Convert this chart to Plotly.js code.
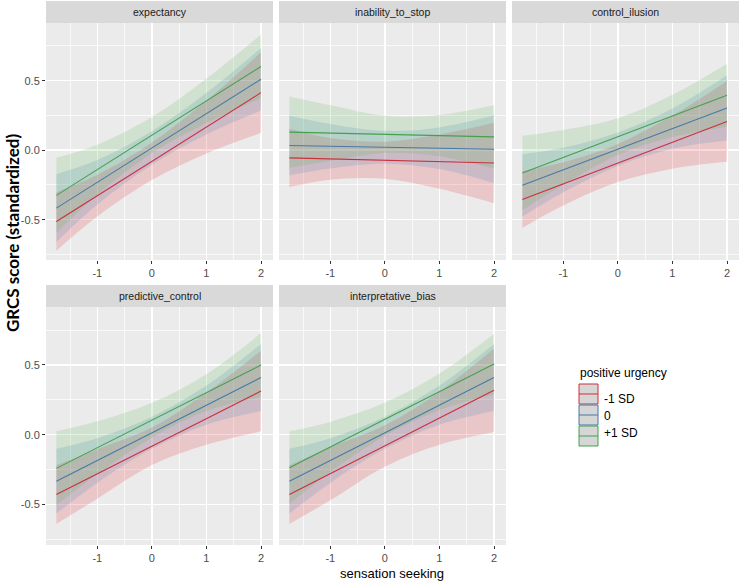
<!DOCTYPE html>
<html><head><meta charset="utf-8">
<script src="https://cdn.plot.ly/plotly-3.0.1.min.js"></script>
<style>html,body{margin:0;padding:0;background:#fff}#chart{width:740px;height:582px}</style>
</head><body><div id="chart"></div>
<script>
// ---- data ----
const facets = ['expectancy', 'inability_to_stop', 'control_ilusion', 'predictive_control', 'interpretative_bias'];
const groups = ['-1 SD', '0', '+1 SD'];
const xVals = [-1.75, -1, 0, 1, 2];
const xTickVals = [-1, 0, 1, 2];
const xTickText = ['-1', '0', '1', '2'];
const yTickVals = [-0.5, 0, 0.5];
const yTickText = ['-0.5', '0.0', '0.5'];

// each: [ -1 SD, 0, +1 SD ]
const expectancyFit   = [[-0.513,-0.327,-0.080,0.167,0.414],[-0.417,-0.231,0.016,0.263,0.511],[-0.325,-0.140,0.108,0.355,0.602]];
const expectancyLower = [[-0.723,-0.477,-0.215,-0.023,0.124],[-0.662,-0.391,-0.104,0.113,0.286],[-0.595,-0.320,-0.022,0.195,0.372]];
const expectancyUpper = [[-0.303,-0.177,0.055,0.357,0.704],[-0.172,-0.071,0.136,0.413,0.736],[-0.055,0.040,0.238,0.515,0.832]];

const inabilityFit   = [[-0.055,-0.062,-0.072,-0.082,-0.092],[0.034,0.029,0.021,0.014,0.007],[0.130,0.123,0.114,0.105,0.096]];
const inabilityLower = [[-0.265,-0.212,-0.205,-0.277,-0.381],[-0.180,-0.131,-0.097,-0.136,-0.237],[-0.126,-0.077,-0.020,-0.043,-0.133]];
const inabilityUpper = [[0.155,0.088,0.061,0.113,0.197],[0.248,0.189,0.139,0.164,0.251],[0.386,0.323,0.248,0.253,0.325]];

const controlFit   = [[-0.354,-0.242,-0.092,0.058,0.207],[-0.253,-0.142,0.007,0.155,0.304],[-0.164,-0.052,0.097,0.246,0.395]];
const controlLower = [[-0.559,-0.398,-0.229,-0.133,-0.084],[-0.477,-0.302,-0.113,0.010,0.069],[-0.432,-0.249,-0.035,0.094,0.168]];
const controlUpper = [[-0.149,-0.086,0.045,0.249,0.498],[-0.029,0.018,0.127,0.300,0.539],[0.104,0.145,0.229,0.398,0.622]];

const predictiveFit   = [[-0.429,-0.281,-0.083,0.115,0.313],[-0.333,-0.185,0.014,0.212,0.410],[-0.241,-0.093,0.104,0.302,0.499]];
const predictiveLower = [[-0.639,-0.458,-0.217,-0.072,0.024],[-0.565,-0.345,-0.101,0.072,0.170],[-0.506,-0.282,-0.021,0.170,0.270]];
const predictiveUpper = [[-0.219,-0.104,0.051,0.302,0.602],[-0.101,-0.025,0.129,0.352,0.650],[0.024,0.096,0.229,0.434,0.728]];

const interpretFit   = [[-0.429,-0.280,-0.081,0.118,0.318],[-0.333,-0.185,0.014,0.212,0.410],[-0.236,-0.088,0.110,0.308,0.506]];
const interpretLower = [[-0.639,-0.470,-0.229,-0.072,0.019],[-0.565,-0.345,-0.101,0.072,0.170],[-0.496,-0.268,-0.010,0.178,0.289]];
const interpretUpper = [[-0.219,-0.090,0.067,0.308,0.617],[-0.101,-0.025,0.129,0.352,0.650],[0.024,0.092,0.230,0.438,0.723]];

const panelData = [
  [expectancyFit, expectancyLower, expectancyUpper],
  [inabilityFit, inabilityLower, inabilityUpper],
  [controlFit, controlLower, controlUpper],
  [predictiveFit, predictiveLower, predictiveUpper],
  [interpretFit, interpretLower, interpretUpper]
];

// ---- style ----
const W = 740, H = 582;
const lineColors = ['#C9303C', '#4779A8', '#45A04E'];
const fillColors = ['rgba(228,26,28,0.17)', 'rgba(55,126,184,0.17)', 'rgba(77,175,74,0.17)'];
const colPx = [[46, 273], [279, 506], [512, 739]];
const rowPx = [[23, 260], [307, 545]];
const stripH = 22;
const px = v => v / W;
const py = v => 1 - v / H;
const tickFont = {family: 'Liberation Sans, Arial, sans-serif', size: 11, color: '#4D4D4D'};

const traces = [];
const layout = {
  width: W, height: H,
  margin: {l: 0, r: 0, t: 0, b: 0},
  paper_bgcolor: '#FFFFFF',
  plot_bgcolor: '#EBEBEB',
  showlegend: false,
  font: {family: 'Liberation Sans, Arial, sans-serif'},
  shapes: [],
  annotations: []
};

facets.forEach((name, i) => {
  const col = i % 3, row = Math.floor(i / 3);
  const ax = i === 0 ? '' : String(i + 1);
  const xa = 'x' + ax, ya = 'y' + ax;
  const [fit, lower, upper] = panelData[i];

  groups.forEach((g, k) => {
    traces.push({x: xVals, y: lower[k], xaxis: xa, yaxis: ya, type: 'scatter', mode: 'lines',
      line: {width: 0, shape: 'spline', smoothing: 1}, hoverinfo: 'skip', showlegend: false});
    traces.push({x: xVals, y: upper[k], xaxis: xa, yaxis: ya, type: 'scatter', mode: 'lines',
      line: {width: 0, shape: 'spline', smoothing: 1}, fill: 'tonexty', fillcolor: fillColors[k],
      hoverinfo: 'skip', showlegend: false});
  });
  groups.forEach((g, k) => {
    traces.push({x: xVals, y: fit[k], xaxis: xa, yaxis: ya, type: 'scatter', mode: 'lines',
      name: g, line: {color: lineColors[k], width: 1.1}, showlegend: false});
  });

  layout['xaxis' + ax] = {
    domain: [px(colPx[col][0]), px(colPx[col][1])], anchor: ya,
    range: [-1.94, 2.22], tickmode: 'array', tickvals: xTickVals, ticktext: xTickText,
    ticks: 'outside', ticklen: 3, tickwidth: 1, tickcolor: '#333333', tickfont: tickFont,
    showgrid: true, gridcolor: '#FFFFFF', gridwidth: 1.4, zeroline: false, showline: false,
    minor: {tickmode: 'array', tickvals: [-1.5, -0.5, 0.5, 1.5], showgrid: true, gridcolor: '#FFFFFF', gridwidth: 0.7}
  };
  layout['yaxis' + ax] = {
    domain: [py(rowPx[row][1]), py(rowPx[row][0])], anchor: xa,
    range: [-0.79, 0.915], tickmode: 'array', tickvals: yTickVals, ticktext: yTickText,
    ticks: col === 0 ? 'outside' : '', ticklen: 3, tickwidth: 1, tickcolor: '#333333',
    showticklabels: col === 0, tickfont: tickFont,
    showgrid: true, gridcolor: '#FFFFFF', gridwidth: 1.4, zeroline: false, showline: false,
    minor: {tickmode: 'array', tickvals: [-0.75, -0.25, 0.25, 0.75], showgrid: true, gridcolor: '#FFFFFF', gridwidth: 0.7}
  };

  // strip
  const sTop = rowPx[row][0] - stripH;
  layout.shapes.push({type: 'rect', xref: 'paper', yref: 'paper',
    x0: px(colPx[col][0]), x1: px(colPx[col][1]), y0: py(rowPx[row][0]), y1: py(sTop),
    fillcolor: '#D9D9D9', line: {width: 0}, layer: 'below'});
  layout.annotations.push({text: name, xref: 'paper', yref: 'paper',
    x: px((colPx[col][0] + colPx[col][1]) / 2), y: py(sTop + stripH / 2),
    xanchor: 'center', yanchor: 'middle', showarrow: false,
    font: {family: 'Liberation Sans, Arial, sans-serif', size: 10.5, color: '#1A1A1A'}});
});

// axis titles
layout.annotations.push({text: 'sensation seeking', xref: 'paper', yref: 'paper',
  x: px(392), y: py(573), xanchor: 'center', yanchor: 'middle', showarrow: false,
  font: {family: 'Liberation Sans, Arial, sans-serif', size: 13, color: '#000000'}});
layout.annotations.push({text: '<b>GRCS score (standardized)</b>', xref: 'paper', yref: 'paper',
  x: px(12), y: py(233), xanchor: 'center', yanchor: 'middle', textangle: -90, showarrow: false,
  font: {family: 'Lato, Open Sans, sans-serif', size: 17, color: '#000000'}});

// legend
layout.annotations.push({text: 'positive urgency', xref: 'paper', yref: 'paper',
  x: px(578), y: py(373), xanchor: 'left', yanchor: 'middle', showarrow: false,
  font: {family: 'Liberation Sans, Arial, sans-serif', size: 12, color: '#000000'}});
const keyTop = [384, 405, 426];
const labelY = [399, 416, 433];
groups.forEach((g, k) => {
  layout.shapes.push({type: 'rect', xref: 'paper', yref: 'paper',
    x0: px(579), x1: px(598), y0: py(keyTop[k] + 20), y1: py(keyTop[k]),
    fillcolor: '#D6D6D6', line: {color: lineColors[k], width: 1}});
  layout.shapes.push({type: 'line', xref: 'paper', yref: 'paper',
    x0: px(579), x1: px(598), y0: py(keyTop[k] + 10), y1: py(keyTop[k] + 10),
    line: {color: lineColors[k], width: 1}});
  layout.annotations.push({text: g, xref: 'paper', yref: 'paper',
    x: px(602), y: py(labelY[k]), xanchor: 'left', yanchor: 'middle', showarrow: false,
    font: {family: 'Liberation Sans, Arial, sans-serif', size: 12, color: '#000000'}});
});

Plotly.newPlot('chart', traces, layout, {staticPlot: true, displayModeBar: false});
</script></body></html>
